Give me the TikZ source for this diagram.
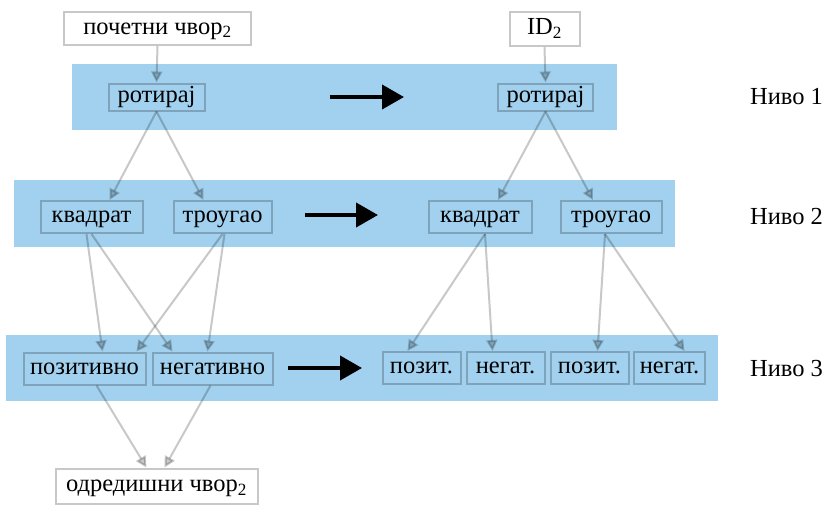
\documentclass[tikz,border=0pt]{standalone}
\usepackage{fontspec}
\setmainfont{Liberation Serif}
\usetikzlibrary{arrows.meta}
\definecolor{band}{HTML}{A1D1EE}
\definecolor{link}{HTML}{C8C8C8}
\begin{document}
\begin{tikzpicture}[x=1pt,y=-1pt,
  txt/.style={font=\fontsize{24.5}{29}\selectfont},
  box/.style={txt, draw=link, line width=2pt, blend mode=multiply,
    inner xsep=6pt, inner ysep=0pt, text height=17pt, text depth=5.5pt,
    minimum height=32pt},
  smallbox/.style={box, minimum height=27pt, text height=16pt, text depth=5pt},
  link/.style={draw=link, line width=2pt, blend mode=multiply,
    -{Triangle[length=11pt,width=11pt]}},
  bigarrow/.style={line width=4pt, -{Triangle[length=22pt,width=24pt]}},
  level/.style={txt}]
\useasboundingbox (0,0) rectangle (827,504);

% level bands
\fill[band] (72,64) rectangle (617,130);
\fill[band] (14,180) rectangle (675,247);
\fill[band] (6,335) rectangle (718,401);

% level 1
\node[box, minimum width=187pt, minimum height=33pt] (start) at (157.5,28.5) {почетни чвор\textsubscript{2}};
\node[smallbox, minimum width=96pt] (rotL) at (156.5,97) {ротирај};
\node[box, minimum width=70pt, minimum height=34pt] (id) at (544.5,29) {ID\textsubscript{2}};
\node[smallbox, minimum width=95pt] (rotR) at (545.5,97) {ротирај};

% level 2
\node[box, minimum width=102pt] (kvL) at (91.5,217) {квадрат};
\node[box, minimum width=98pt] (trL) at (222.5,217) {троугао};
\node[box, minimum width=103pt] (kvR) at (480,217) {квадрат};
\node[box, minimum width=101pt] (trR) at (611,217) {троугао};

% level 3
\node[box, minimum width=122pt] (poz) at (84.5,368.5) {позитивно};
\node[box, minimum width=120pt] (neg) at (212.5,368.5) {негативно};
\node[box, minimum width=78pt] (pz1) at (421.5,368) {позит.};
\node[box, minimum width=78pt] (ng1) at (505.5,368) {негат.};
\node[box, minimum width=78pt] (pz2) at (589.5,368) {позит.};
\node[box, minimum width=71pt] (ng2) at (669.5,368) {негат.};

% goal
\node[box, minimum width=202pt, minimum height=35pt] (goal) at (156.5,486) {одредишни чвор\textsubscript{2}};

% level labels
\node[level] (lv1) at (786.5,97) {Ниво 1};
\node[level] (lv2) at (786.5,217) {Ниво 2};
\node[level] (lv3) at (786.5,369) {Ниво 3};

% transformation arrows
\coordinate (a1s) at (330,97);  \coordinate (a1e) at (404,97);
\coordinate (a2s) at (305,215); \coordinate (a2e) at (378,215);
\coordinate (a3s) at (288,368); \coordinate (a3e) at (362,368);
\draw[bigarrow] (a1s) -- (a1e);
\draw[bigarrow] (a2s) -- (a2e);
\draw[bigarrow] (a3s) -- (a3e);

% left tree
\draw[link] (start.south) -- (rotL.north);
\draw[link] (rotL.south) -- ([xshift=18pt]kvL.north);
\draw[link] (rotL.south) -- ([xshift=-19pt]trL.north);
\draw[link] ([xshift=-5pt]kvL.south) -- ([xshift=18pt]poz.north);
\draw[link] ([xshift=0pt]kvL.south) -- ([xshift=-40pt]neg.north);
\draw[link] ([xshift=0pt]trL.south) -- ([xshift=52pt]poz.north);
\draw[link] ([xshift=2pt]trL.south) -- ([xshift=-5pt]neg.north);
\draw[link] ([xshift=12pt]poz.south) -- ([xshift=-10pt]goal.north);
\draw[link] ([xshift=-2pt]neg.south) -- ([xshift=8pt]goal.north);

% right tree
\draw[link] (id.south) -- (rotR.north);
\draw[link] (rotR.south) -- ([xshift=18pt]kvR.north);
\draw[link] (rotR.south) -- ([xshift=-18pt]trR.north);
\draw[link] ([xshift=5pt]kvR.south) -- ([xshift=-14pt]pz1.north);
\draw[link] ([xshift=5pt]kvR.south) -- ([xshift=-13pt]ng1.north);
\draw[link] ([xshift=-6pt]trR.south) -- ([xshift=8pt]pz2.north);
\draw[link] ([xshift=-6pt]trR.south) -- ([xshift=15pt]ng2.north);
\end{tikzpicture}
\end{document}
